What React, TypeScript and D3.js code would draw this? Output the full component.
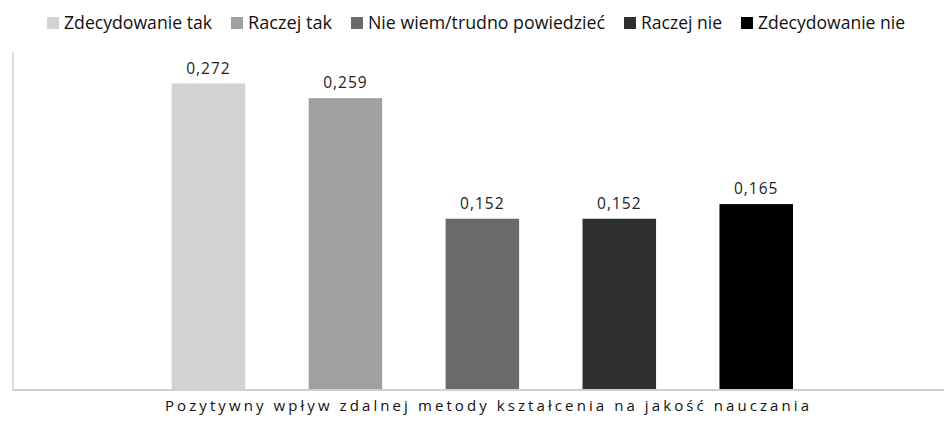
import React from 'react';
import * as d3 from 'd3';

// Data
const categories = [
  'Zdecydowanie tak',
  'Raczej tak',
  'Nie wiem/trudno powiedzieć',
  'Raczej nie',
  'Zdecydowanie nie',
];
const values = [0.272, 0.259, 0.152, 0.152, 0.165];
const axisTitle = 'Pozytywny wpływ zdalnej metody kształcenia na jakość nauczania';

// Styles
const colors = ['#d2d2d2', '#a0a0a0', '#6a6a6a', '#2f2f2f', '#000000'];
const legendTextWidths = [148, 84, 237, 81, 147];

const width = 944;
const height = 422;
const font = '"Open Sans", "Noto Sans", sans-serif';

function App() {
  const margin = { top: 52, bottom: 32, left: 13 };

  const yScale = d3.scaleLinear()
    .domain([0, 0.3])
    .range([height - margin.bottom, margin.top]);

  const xScale = d3.scaleBand<string>()
    .domain(categories)
    .range([171.7, 793])
    .paddingInner(0.463)
    .paddingOuter(0);

  const fmt = (v: number) => d3.format('.3f')(v).replace('.', ',');
  const baseY = yScale(0);

  // Legend layout: square, gap, text, gap
  let cursor = 47;
  const legendItems = categories.map((c, i) => {
    const item = { name: c, color: colors[i], x: cursor, w: legendTextWidths[i] };
    cursor += 12 + 5 + legendTextWidths[i] + 19;
    return item;
  });

  return (
    <svg
      width={width}
      height={height}
      style={{ position: 'absolute', left: 0, top: 0, background: '#fff' }}
    >
      {/* Legend */}
      <g>
        {legendItems.map(d => (
          <g key={d.name}>
            <rect x={d.x} y={17} width={12} height={12} fill={d.color} />
            <text
              x={d.x + 17}
              y={29}
              fontFamily={font}
              fontSize={18.5}
              fill="#111"
              textLength={d.w}
              lengthAdjust="spacingAndGlyphs"
            >
              {d.name}
            </text>
          </g>
        ))}
      </g>

      {/* Bars */}
      {categories.map((c, i) => (
        <rect
          key={c}
          x={xScale(c)}
          y={yScale(values[i])}
          width={xScale.bandwidth()}
          height={baseY - yScale(values[i])}
          fill={colors[i]}
        />
      ))}

      {/* Value labels */}
      {categories.map((c, i) => (
        <text
          key={c + '-label'}
          x={(xScale(c) ?? 0) + xScale.bandwidth() / 2}
          y={yScale(values[i]) - 10}
          textAnchor="middle"
          fontFamily={font}
          fontSize={15.5}
          letterSpacing={1}
          fill="#222"
        >
          {fmt(values[i])}
        </text>
      ))}

      {/* Axis lines */}
      <line x1={margin.left} x2={margin.left} y1={margin.top} y2={baseY} stroke="#cfcfcf" strokeWidth={1.5} />
      <line x1={margin.left - 1} x2={width} y1={baseY} y2={baseY} stroke="#cfcfcf" strokeWidth={2} />

      {/* Axis title */}
      <text
        x={165}
        y={411}
        fontFamily={font}
        fontSize={15}
        fill="#111"
        textLength={644}
        lengthAdjust="spacing"
      >
        {axisTitle}
      </text>
    </svg>
  );
}

export default App;
